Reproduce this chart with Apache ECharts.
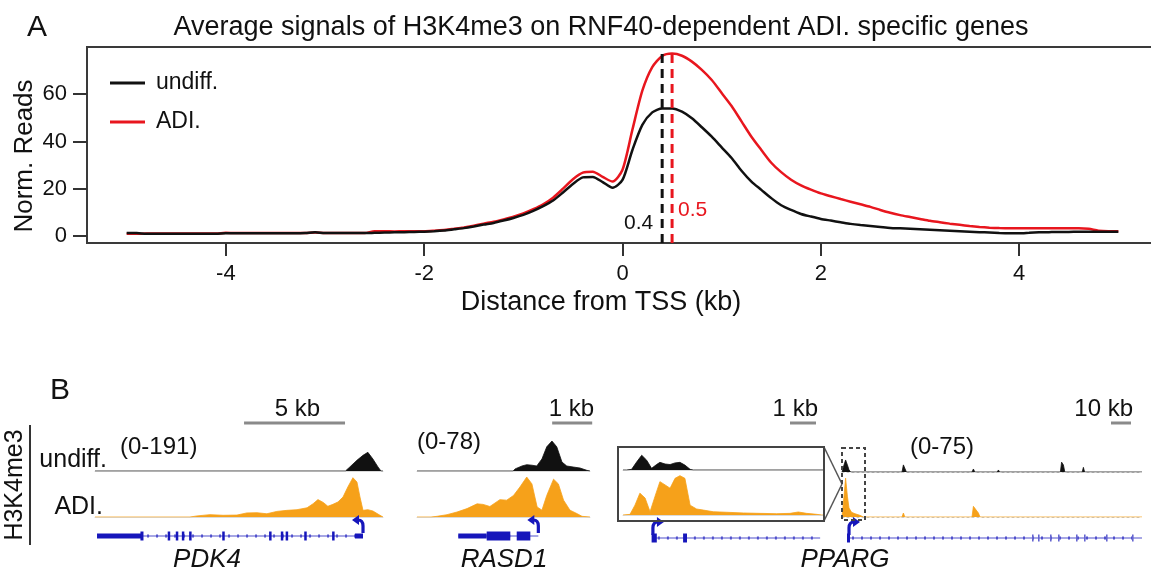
<!DOCTYPE html>
<html><head><meta charset="utf-8">
<script src="https://cdn.jsdelivr.net/npm/echarts@6/dist/echarts.min.js"></script>
<style>html,body{margin:0;padding:0;background:#fff}#c{width:1151px;height:571px}</style>
</head><body><div id="c"></div>
<script>
// ---------------- Panel A data ----------------
const distanceKb = [-5.0,-4.9,-4.8,-4.7,-4.6,-4.5,-4.4,-4.3,-4.2,-4.1,-4.0,-3.9,-3.8,-3.7,-3.6,-3.5,-3.4,-3.3,-3.2,-3.1,-3.0,-2.9,-2.8,-2.7,-2.6,-2.5,-2.4,-2.3,-2.2,-2.1,-2.0,-1.9,-1.8,-1.7,-1.6,-1.5,-1.4,-1.3,-1.2,-1.1,-1.0,-0.9,-0.8,-0.7,-0.6,-0.5,-0.4,-0.3,-0.2,-0.1,0.0,0.1,0.2,0.3,0.4,0.5,0.6,0.7,0.8,0.9,1.0,1.1,1.2,1.3,1.4,1.5,1.6,1.7,1.8,1.9,2.0,2.1,2.2,2.3,2.4,2.5,2.6,2.7,2.8,2.9,3.0,3.1,3.2,3.3,3.4,3.5,3.6,3.7,3.8,3.9,4.0,4.1,4.2,4.3,4.4,4.5,4.6,4.7,4.8,4.9,5.0];
const undiffSignal = [1.2,1.2,0.9,0.9,0.9,0.9,0.9,0.9,0.9,0.9,1.1,1.1,1.1,1.1,1.1,1.1,1.1,1.1,1.2,1.5,1.2,1.2,1.2,1.2,1.2,1.3,1.4,1.5,1.6,1.7,1.8,2.0,2.3,2.8,3.3,4.0,4.8,5.5,6.5,7.6,8.9,10.6,12.6,15.0,18.4,22.0,24.8,25.0,22.8,20.4,23.7,36.4,47.0,52.3,54.0,54.0,52.6,49.8,46.0,42.0,37.5,33.0,27.6,23.0,19.5,16.0,13.0,11.0,9.3,8.2,7.2,6.5,5.8,5.1,4.6,4.2,3.8,3.4,3.2,3.0,2.8,2.6,2.4,2.2,2.0,1.8,1.6,1.4,1.2,1.1,1.1,1.3,1.5,1.6,1.7,1.7,1.8,1.8,1.8,1.8,1.8];
const adiSignal = [0.9,0.9,1.0,1.0,1.0,1.0,1.0,1.0,1.0,1.0,1.3,1.2,1.2,1.2,1.2,1.2,1.2,1.2,1.2,1.4,1.2,1.2,1.2,1.2,1.2,2.0,2.0,1.9,2.0,2.0,2.0,2.2,2.5,3.0,3.6,4.3,5.2,6.0,7.0,8.1,9.5,11.3,13.4,16.2,20.0,24.0,26.8,27.2,25.0,23.0,28.0,45.0,61.5,71.5,76.2,77.2,76.3,73.8,70.3,66.0,60.5,55.0,48.5,42.0,36.4,31.0,27.0,23.8,21.4,19.6,18.0,16.8,15.6,14.5,13.4,12.3,11.0,9.8,8.8,8.0,7.2,6.4,5.8,5.2,4.7,4.2,3.8,3.5,3.3,3.2,3.2,3.2,3.2,3.2,3.2,3.2,3.2,3.0,2.2,2.0,2.0];
const xTicks = [-4, -2, 0, 2, 4];
const yTicks = [0, 20, 40, 60];
const peakPositions = [0.4, 0.5];
const peakLabelHeights = [5.5, 11];
const peakLineTop = 77;

// ---------------- Panel B data ([kb, reads]) ----------------
const pdk4Undiff = [[0,0],[12.4,0],[12.62,19],[12.97,50],[13.27,73],[13.51,87],[13.76,56],[14.01,19],[14.16,0],[14.26,0]];
const pdk4Adi = [[0,0],[4.7,0],[5.05,5],[5.69,11],[6.34,8],[7.03,9],[7.52,19],[8.02,20],[8.51,15],[9.0,26],[9.5,31],[10.0,34],[10.5,43],[10.8,62],[11.04,81],[11.3,68],[11.53,50],[11.78,59],[12.03,70],[12.28,93],[12.52,140],[12.77,183],[12.97,163],[13.12,93],[13.27,31],[13.51,34],[13.76,28],[14.11,8],[14.26,0]];
const rasd1Undiff = [[0,0],[2.4,0],[2.45,4],[2.62,9.5],[2.74,12],[2.87,11],[2.99,9.5],[3.12,23],[3.24,46],[3.37,57],[3.49,46],[3.62,17],[3.74,9.5],[3.9,7.6],[4.07,5.7],[4.24,1.3],[4.32,0]];
const rasd1Adi = [[0,0],[0.35,0],[0.5,1.3],[0.75,4.4],[1.0,9.5],[1.25,16],[1.5,25],[1.65,24],[1.82,20],[2.07,33],[2.24,32],[2.41,41],[2.57,57],[2.74,76],[2.87,63],[3.0,19],[3.12,13],[3.24,41],[3.41,72],[3.53,63],[3.66,32],[3.82,13],[4.0,6.3],[4.12,1.3],[4.16,0],[4.32,0]];
const ppargInsetUndiff = [[0,0],[0.14,0],[0.33,1.2],[0.53,15],[0.72,27],[0.91,18],[1.1,3],[1.29,10],[1.42,14],[1.62,11],[1.81,10],[2.0,13],[2.19,14],[2.38,9],[2.58,1.2],[2.7,0],[7.69,0]];
const ppargInsetAdi = [[0,0],[0.27,1.2],[0.46,18],[0.65,40],[0.85,31],[1.04,6],[1.23,34],[1.42,61],[1.62,55],[1.81,49],[2.0,67],[2.19,72],[2.38,67],[2.58,18],[2.83,11],[3.09,9],[3.47,6],[3.99,5],[4.63,3.7],[5.27,3],[5.91,2.4],[6.42,3],[6.74,5.5],[7.06,3],[7.45,1.2],[7.64,0],[7.69,0]];
const ppargUndiff = [[0,0],[0.5,0],[1.0,13],[1.8,22],[2.7,13],[3.5,4],[4.3,0],[26,0],[26.5,2.4],[27,0],[30,0],[30.7,13],[31.5,10],[32.2,0],[59.2,0],[59.8,2.4],[60.4,0],[65,0],[65.7,5.5],[66.4,0],[71,0],[71.5,1.2],[72,0],[77.6,0],[78.2,3.7],[78.8,0],[89.3,0],[89.8,1.2],[90.3,0],[109.2,0],[109.8,18],[110.7,13],[111.4,0],[120.1,0],[120.7,8.5],[121.3,0],[150,0]];
const ppargAdi = [[0,0],[0.4,0],[1.0,38],[1.8,71],[2.7,38],[3.5,16.5],[4.8,8.5],[6.5,6],[9,3],[10.7,0],[26,0],[26.5,2.4],[27,0],[30,0],[30.7,7.3],[31.4,0],[65,0],[65.7,19.5],[66.5,21],[68.2,7.3],[69,0],[77.7,0],[78.2,1.3],[78.7,0],[109.3,0],[109.8,1.3],[110.3,0],[120.2,0],[120.7,1.3],[121.2,0],[150,0]];
// gene models: [start kb, end kb, kind]  kind 0 intron, 1 UTR, 2 exon, 3 TSS arrow (minus strand), 4 TSS arrow (plus strand), 5 faint exon
const pdk4Gene = [[2.33,13.27,0],[0.1,2.33,1],[2.25,2.4,2],[3.6,3.72,2],[4.0,4.12,2],[4.3,4.42,2],[4.66,4.74,2],[6.3,6.38,2],[8.62,8.7,2],[9.2,9.32,2],[9.44,9.56,2],[10.36,10.44,2],[11.74,11.82,2],[12.87,13.27,1],[13.27,13.27,3]];
const rasd1Gene = [[1.03,3.03,0],[1.03,1.74,1],[1.74,2.33,2],[2.49,2.83,2],[3.03,3.03,3]];
const ppargInsetGene = [[1.15,7.58,0],[1.1,1.3,2],[2.31,2.46,2],[1.15,1.15,4]];
const ppargGene = [[2.5,150,0],[2.5,4,2],[95,95.8,5],[98,98.8,5],[104,104.8,5],[108,108.8,5],[117,117.8,5],[121,121.8,5],[132,132.8,5],[145,145.8,5],[3.5,3.5,4]];
const trackScales = ['(0-191)', '(0-78)', '(0-75)'];
const scaleBars = [
  {axis: 1, start: 7.38, len: 5, label: '5 kb', align: 'center'},
  {axis: 4, start: 3.375, len: 1, label: '1 kb', align: 'right'},
  {axis: 7, start: 6.42, len: 1, label: '1 kb', align: 'right'},
  {axis: 10, start: 134.5, len: 10, label: '10 kb', align: 'right'}
];

// ---------------- build ----------------
const F = '"Liberation Sans", Arial, Helvetica, sans-serif';
const BLACK = '#111', RED = '#e8161e', ORANGE = '#f6a11a', BLUE = '#1616bb', BLUE2 = '#5050cc';
const zip = (xs, ys) => xs.map((x, i) => [x, ys[i]]);
const chart = echarts.init(document.getElementById('c'));

const grids = [], xAxes = [], yAxes = [], series = [];
grids.push({left: 87, top: 47, width: 1071, height: 196, show: true, borderColor: '#3a3a3a', borderWidth: 2, outerBoundsMode: 'none'});
xAxes.push({type: 'value', gridIndex: 0, min: -5.4, max: 5.4,
  axisLine: {show: true, onZero: false, lineStyle: {color: '#3a3a3a', width: 2}}, splitLine: {show: false},
  axisTick: {show: true, customValues: xTicks, length: 13, lineStyle: {color: '#333', width: 2}},
  axisLabel: {customValues: xTicks, fontSize: 22, color: BLACK, margin: 20, fontFamily: F}});
yAxes.push({type: 'value', gridIndex: 0, min: -3, max: 80,
  axisLine: {show: true, onZero: false, lineStyle: {color: '#3a3a3a', width: 2}}, splitLine: {show: false},
  axisTick: {show: true, customValues: yTicks, length: 14, lineStyle: {color: '#333', width: 2}},
  axisLabel: {customValues: yTicks, fontSize: 22, color: BLACK, margin: 20, fontFamily: F}});
series.push({name: 'ADI.', type: 'line', xAxisIndex: 0, yAxisIndex: 0, data: zip(distanceKb, adiSignal), symbol: 'none', smooth: 0.25, lineStyle: {color: RED, width: 2.5}, itemStyle: {color: RED}, z: 3});
series.push({name: 'undiff.', type: 'line', xAxisIndex: 0, yAxisIndex: 0, data: zip(distanceKb, undiffSignal), symbol: 'none', smooth: 0.25, lineStyle: {color: BLACK, width: 2.5}, itemStyle: {color: BLACK}, z: 4});
const peakColors = [BLACK, RED];
peakPositions.forEach((p, i) => {
  series.push({type: 'line', xAxisIndex: 0, yAxisIndex: 0, data: [[p, -3], [p, peakLineTop]], symbol: 'none',
    lineStyle: {color: peakColors[i], width: 3, type: [9, 6]}, z: 5, silent: true});
  series.push({type: 'scatter', xAxisIndex: 0, yAxisIndex: 0, data: [[p, peakLabelHeights[i]]], symbol: 'circle', symbolSize: 2, itemStyle: {color: 'rgba(255,255,255,0)', opacity: 1},
    label: {show: true, formatter: String(p), position: i === 0 ? 'left' : 'right', distance: i === 0 ? 8 : 5, fontSize: 21, color: peakColors[i], fontFamily: F, opacity: 1}, z: 6, silent: true});
});

function addGrid(left, top, width, height, xmax, ymin, ymax, baseline) {
  const gi = grids.length;
  grids.push({left, top, width, height, outerBoundsMode: 'none'});
  xAxes.push({type: 'value', gridIndex: gi, min: 0, max: xmax, splitLine: {show: false}, axisTick: {show: false}, axisLabel: {show: false},
    axisLine: baseline ? {show: true, onZero: false, lineStyle: baseline} : {show: false}});
  yAxes.push({type: 'value', gridIndex: gi, min: ymin, max: ymax, show: false});
  return gi;
}
function addTrack(gi, data, color) {
  series.push({type: 'line', xAxisIndex: gi, yAxisIndex: gi, data, symbol: 'none', lineStyle: {color, width: 0.8}, areaStyle: {color, opacity: 1}, z: 3, silent: true});
}
function geneRender(params, api) {
  const kind = api.value(2);
  const p0 = api.coord([api.value(0), 0]);
  const p1 = api.coord([api.value(1), 0]);
  const y = p0[1];
  if (kind === 0) {
    const ch = [{type: 'line', shape: {x1: p0[0], y1: y, x2: p1[0], y2: y}, style: {stroke: BLUE2, lineWidth: 1.2}}];
    for (let x = p0[0] + 6; x < p1[0] - 3; x += 9) ch.push({type: 'rect', shape: {x: x - 1, y: y - 1.5, width: 2, height: 3}, style: {fill: BLUE2}});
    return {type: 'group', children: ch};
  }
  if (kind === 1 || kind === 2 || kind === 5) {
    const h = kind === 1 ? 5 : (kind === 5 ? 7 : 9);
    return {type: 'rect', shape: {x: p0[0], y: y - h / 2, width: Math.max(kind === 5 ? 1.5 : 2.5, p1[0] - p0[0]), height: h}, style: {fill: kind === 5 ? '#6464d0' : BLUE}};
  }
  const d = kind === 3 ? -1 : 1, x = p0[0];
  return {type: 'group', children: [
    {type: 'line', shape: {x1: x, y1: y - 3, x2: x, y2: y - 10}, style: {stroke: BLUE, lineWidth: 3.2}},
    {type: 'bezierCurve', shape: {x1: x, y1: y - 10, cpx1: x, cpy1: y - 16, x2: x + d * 5, y2: y - 16}, style: {stroke: BLUE, lineWidth: 3.2, fill: null}},
    {type: 'polygon', shape: {points: [[x + d * 4, y - 21], [x + d * 11, y - 16], [x + d * 4, y - 11]]}, style: {fill: BLUE}}
  ]};
}
function addGene(gi, data) {
  series.push({type: 'custom', xAxisIndex: gi, yAxisIndex: gi, data, renderItem: geneRender, z: 4, silent: true});
}
const base = {color: '#dadada', width: 1};
const dotted = {color: '#c8c8c8', width: 1, type: [2, 3]};
// PDK4
addTrack(addGrid(95, 430, 288, 41, 14.26, 0, 191, base), pdk4Undiff, BLACK);
addTrack(addGrid(95, 476, 288, 41, 14.26, 0, 191, base), pdk4Adi, ORANGE);
addGene(addGrid(95, 516, 288, 40, 14.26, -1, 1, null), pdk4Gene);
// RASD1
addTrack(addGrid(417, 430, 173, 41, 4.32, 0, 78, base), rasd1Undiff, BLACK);
addTrack(addGrid(417, 476, 173, 41, 4.32, 0, 78, base), rasd1Adi, ORANGE);
addGene(addGrid(417, 516, 173, 40, 4.32, -1, 1, null), rasd1Gene);
// PPARG inset
addTrack(addGrid(623, 429, 200, 41, 7.69, 0, 75, base), ppargInsetUndiff, BLACK);
addTrack(addGrid(623, 474, 200, 41, 7.69, 0, 75, base), ppargInsetAdi, ORANGE);
addGene(addGrid(623, 518, 200, 40, 7.69, -1, 1, null), ppargInsetGene);
// PPARG whole locus
addTrack(addGrid(842, 431, 300, 41, 150, 0, 75, dotted), ppargUndiff, BLACK);
addTrack(addGrid(842, 476, 300, 41, 150, 0, 75, dotted), ppargAdi, ORANGE);
addGene(addGrid(842, 518, 300, 40, 150, -1, 1, null), ppargGene);

chart.setOption({
  animation: false,
  backgroundColor: '#fff',
  grid: grids, xAxis: xAxes, yAxis: yAxes, series,
  legend: {data: [{name: 'undiff.', icon: 'rect'}, {name: 'ADI.', icon: 'rect'}], orient: 'vertical', left: 105, top: 66,
    itemWidth: 35, itemHeight: 3, itemGap: 15, selectedMode: false,
    textStyle: {fontSize: 23, color: BLACK, fontFamily: F, lineHeight: 24, padding: [0, 0, 0, 6]}}
});

const T = (text, x, y, size, opts = {}) => ({type: 'text', x, y, rotation: opts.rotation || 0, z: 10,
  style: {text, fill: opts.color || BLACK, font: (opts.italic ? 'italic ' : '') + size + 'px ' + F, align: opts.align || 'left', verticalAlign: 'middle'}});
const graphics = [
  T('A', 27, 28, 30),
  T('Average signals of H3K4me3 on RNF40-dependent ADI. specific genes', 601, 28, 27, {align: 'center'}),
  T('Distance from TSS (kb)', 601, 303, 27, {align: 'center'}),
  T('Norm. Reads', 25, 156, 26, {align: 'center', rotation: Math.PI / 2}),
  T('B', 50, 391, 30),
  T('H3K4me3', 15, 485, 25, {align: 'center', rotation: Math.PI / 2}),
  {type: 'line', shape: {x1: 30, y1: 425, x2: 30, y2: 545}, style: {stroke: '#333', lineWidth: 2}},
  T('undiff.', 107, 460, 25, {align: 'right'}),
  T('ADI.', 103, 507, 25, {align: 'right'}),
  T(trackScales[0], 120, 447, 24),
  T(trackScales[1], 417, 442, 24),
  T(trackScales[2], 910, 447, 24),
  T('PDK4', 207, 560, 26, {align: 'center', italic: true}),
  T('RASD1', 504, 560, 26, {align: 'center', italic: true}),
  T('PPARG', 845, 560, 26, {align: 'center', italic: true}),
  {type: 'rect', shape: {x: 618, y: 447, width: 206, height: 74}, style: {fill: null, stroke: '#444', lineWidth: 2}, z: 9},
  {type: 'rect', shape: {x: 842, y: 448, width: 23, height: 72}, style: {fill: null, stroke: '#444', lineWidth: 2, lineDash: [4, 3]}, z: 9},
  {type: 'line', shape: {x1: 824, y1: 447, x2: 842, y2: 484}, style: {stroke: '#555', lineWidth: 1.5}},
  {type: 'line', shape: {x1: 824, y1: 521, x2: 842, y2: 484}, style: {stroke: '#555', lineWidth: 1.5}}
];
scaleBars.forEach(b => {
  const x1 = chart.convertToPixel({xAxisIndex: b.axis}, b.start);
  const x2 = chart.convertToPixel({xAxisIndex: b.axis}, b.start + b.len);
  graphics.push({type: 'line', shape: {x1, y1: 423, x2, y2: 423}, style: {stroke: '#8a8a8a', lineWidth: 3}});
  const tx = b.align === 'center' ? (x1 + x2) / 2 + 3 : x2 + 2;
  graphics.push(T(b.label, tx, 409, 24, {align: b.align}));
});
chart.setOption({graphic: graphics});
</script></body></html>
